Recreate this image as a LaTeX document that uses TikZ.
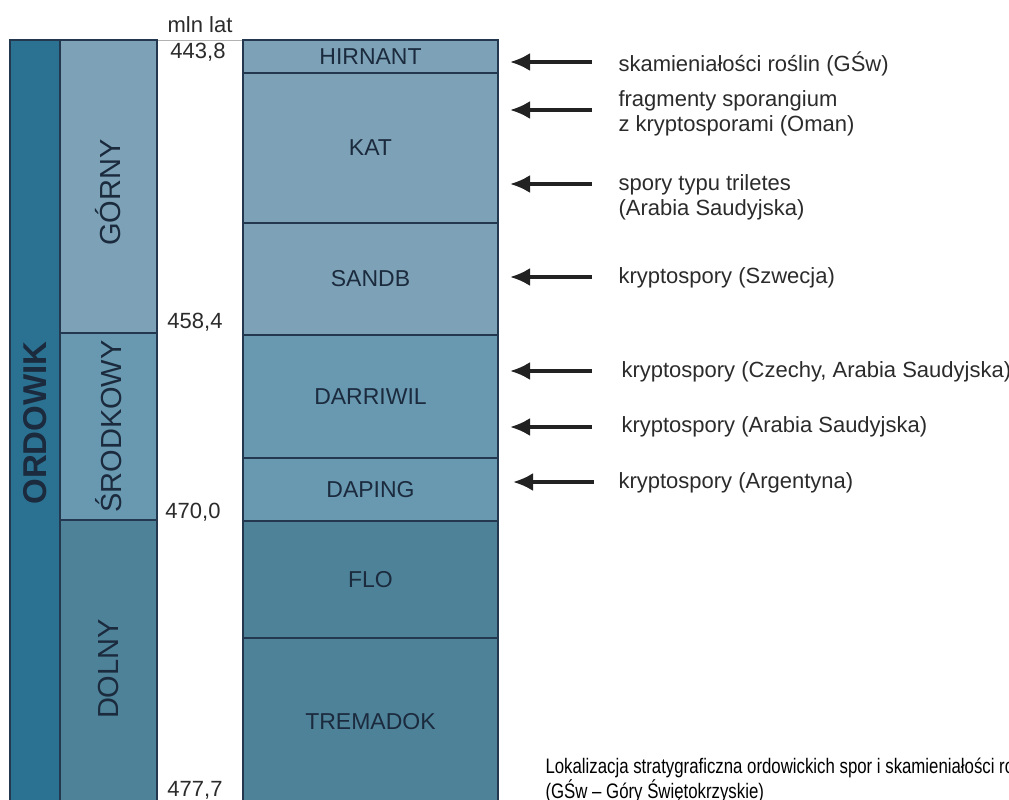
\documentclass[tikz,border=0pt]{standalone}
\usepackage{fontspec}
\setmainfont{Liberation Sans}
\newfontfamily\capfont[FakeStretch=0.8]{Liberation Sans}
\usetikzlibrary{arrows.meta}

\definecolor{eracol}{HTML}{2B7292}
\definecolor{upcol}{HTML}{7DA2B7}
\definecolor{midcol}{HTML}{6899B1}
\definecolor{lowcol}{HTML}{4E8299}
\definecolor{edgecol}{HTML}{23384F}
\definecolor{inkcol}{HTML}{1B2A3D}
\definecolor{notecol}{HTML}{2B2B2B}

\tikzset{
  unit/.style={draw=edgecol, line width=1.2pt},
  lbl/.style={text=inkcol, font=\fontsize{23}{26}\selectfont},
  serieslbl/.style={rotate=90, text=inkcol, font=\fontsize{29}{30}\selectfont},
  agelbl/.style={text=notecol, font=\fontsize{22}{25}\selectfont},
  note/.style={anchor=west, align=left, text=notecol, font=\fontsize{22}{25}\selectfont},
  ptr/.style={-{Latex[length=20pt,width=18pt]}, line width=3.5pt, notecol!80!black}
}

\begin{document}
\begin{tikzpicture}[x=1pt,y=-1pt]
  \useasboundingbox (0,0) rectangle (1009,800);
  \clip (0,0) rectangle (1009,800);

  % time scale
  \draw[draw=gray!60, fill=white] (157,40) rectangle (243,806);
  \draw[unit, fill=eracol] (10,40) rectangle (60,806)
    node[pos=.5, rotate=90, text=inkcol, font=\fontsize{33}{34}\selectfont\bfseries] (ordowik) {ORDOWIK};

  \draw[unit, fill=upcol] (60,40) rectangle (157,333) node[pos=.5, yshift=-6pt, serieslbl] (gorny) {GÓRNY};
  \draw[unit, fill=midcol] (60,333) rectangle (157,520) node[pos=.5, serieslbl] (srodkowy) {ŚRODKOWY};
  \draw[unit, fill=lowcol] (60,520) rectangle (157,806) node[pos=.5, yshift=-6pt, serieslbl] (dolny) {DOLNY};

  \draw[unit, fill=upcol] (243,40) rectangle (498,73) node[pos=.5, lbl] (hirnant) {HIRNANT};
  \draw[unit, fill=upcol] (243,73) rectangle (498,223) node[pos=.5, lbl] (kat) {KAT};
  \draw[unit, fill=upcol] (243,223) rectangle (498,335) node[pos=.5, lbl] (sandb) {SANDB};
  \draw[unit, fill=midcol] (243,335) rectangle (498,458) node[pos=.5, lbl] (darriwil) {DARRIWIL};
  \draw[unit, fill=midcol] (243,458) rectangle (498,521) node[pos=.5, lbl] (daping) {DAPING};
  \draw[unit, fill=lowcol] (243,521) rectangle (498,638) node[pos=.5, lbl] (flo) {FLO};
  \draw[unit, fill=lowcol] (243,638) rectangle (498,806) node[pos=.5, lbl] (tremadok) {TREMADOK};

  % ages
  \node[agelbl] (mln) at (200,25) {mln lat};
  \node[agelbl] (a443) at (198,52) {443,8};
  \node[agelbl] (a458) at (195,322) {458,4};
  \node[agelbl] (a470) at (193,512) {470,0};
  \node[agelbl] (a477) at (195,790) {477,7};

  % finds
  \node[note] (n1) at (615,64) {skamieniałości roślin (GŚw)};
  \node[note] (n2) at (615,113) {fragmenty sporangium\\z kryptosporami (Oman)};
  \node[note] (n3) at (615,197) {spory typu triletes\\(Arabia Saudyjska)};
  \node[note] (n4) at (615,278) {kryptospory (Szwecja)};
  \node[note] (n5) at (618,372) {kryptospory (Czechy, Arabia Saudyjska)};
  \node[note] (n6) at (618,427) {kryptospory (Arabia Saudyjska)};
  \node[note] (n7) at (615,483) {kryptospory (Argentyna)};

  \coordinate (s1) at (592,62);  \coordinate (e1) at (510,62);
  \coordinate (s2) at (592,110); \coordinate (e2) at (510,110);
  \coordinate (s3) at (592,184); \coordinate (e3) at (510,184);
  \coordinate (s4) at (592,277); \coordinate (e4) at (510,277);
  \coordinate (s5) at (592,371); \coordinate (e5) at (510,371);
  \coordinate (s6) at (592,427); \coordinate (e6) at (510,427);
  \coordinate (s7) at (594,482); \coordinate (e7) at (513,482);
  \draw[ptr] (s1) -- (e1);
  \draw[ptr] (s2) -- (e2);
  \draw[ptr] (s3) -- (e3);
  \draw[ptr] (s4) -- (e4);
  \draw[ptr] (s5) -- (e5);
  \draw[ptr] (s6) -- (e6);
  \draw[ptr] (s7) -- (e7);

  % caption
  \node[anchor=west, align=left, text=black, font=\capfont\fontsize{21}{25}\selectfont] (caption) at (542,780.5)
    {Lokalizacja stratygraficzna ordowickich spor i skamieniałości roślin\\(GŚw – Góry Świętokrzyskie)};
\end{tikzpicture}
\end{document}
